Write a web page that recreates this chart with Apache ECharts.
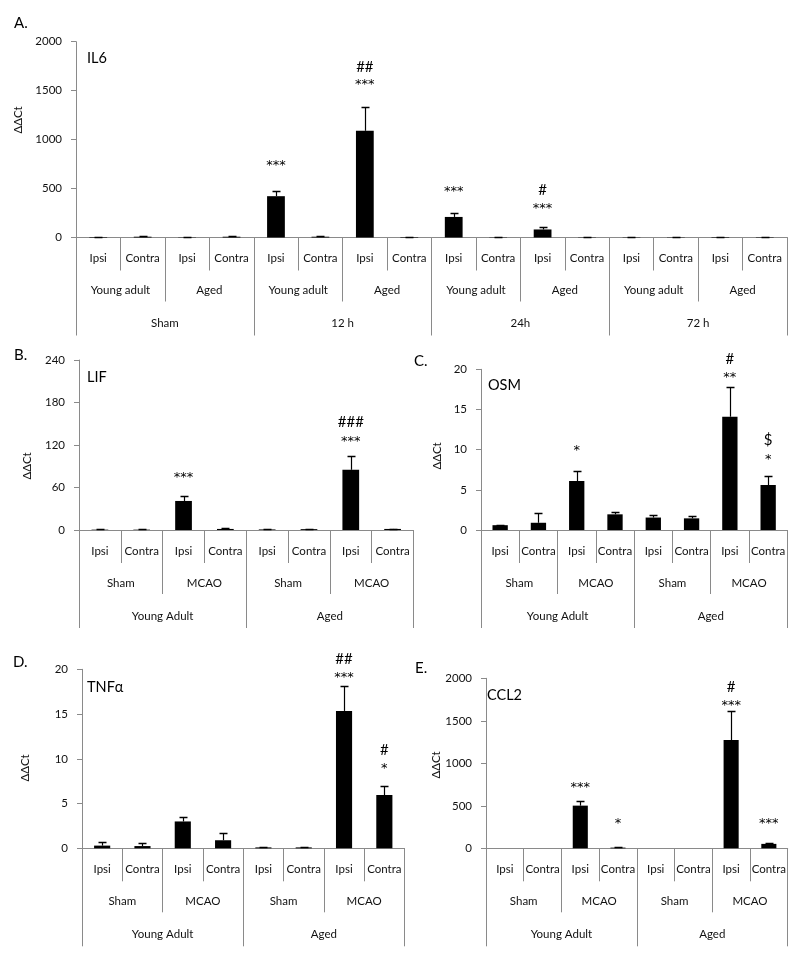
<!DOCTYPE html>
<html>
<head>
<meta charset="utf-8">
<script src="https://cdn.jsdelivr.net/npm/echarts@6/dist/echarts.min.js"></script>
<style>html,body{margin:0;padding:0;background:#fff}#c{width:800px;height:957px}</style>
</head>
<body>
<div id="c"></div>
<script>
// ---------- DATA ----------
const sideLabels16 = ['Ipsi','Contra','Ipsi','Contra','Ipsi','Contra','Ipsi','Contra','Ipsi','Contra','Ipsi','Contra','Ipsi','Contra','Ipsi','Contra'];
const ageLabels8 = ['Young adult','Aged','Young adult','Aged','Young adult','Aged','Young adult','Aged'];
const timeLabels4 = ['Sham','12 h','24h','72 h'];

const sideLabels8 = ['Ipsi','Contra','Ipsi','Contra','Ipsi','Contra','Ipsi','Contra'];
const groupLabels4 = ['Sham','MCAO','Sham','MCAO'];
const ageLabels2 = ['Young Adult','Aged'];

const il6Mean = [5, 8, 3, 8, 422, 8, 1090, 5, 210, 3, 82, 3, 3, 3, 5, 4];
const il6Sem  = [3, 3, 2, 3, 50, 3, 245, 3, 40, 2, 26, 2, 2, 2, 3, 2];
const il6Marks = [[4,'***',771],[6,'***',1599],[6,'##',1742],[8,'***',506],[10,'***',332],[10,'#',485]];

const lifMean = [0.5, 0.5, 41, 1.5, 0.8, 1.2, 85, 1.5];
const lifSem  = [0.3, 0.3, 6.7, 0.8, 0.4, 0.5, 18.8, 0.5];
const lifMarks = [[2,'***',79],[6,'***',130],[6,'###',152]];

const osmMean = [0.6, 0.9, 6.1, 1.95, 1.55, 1.45, 14.1, 5.6];
const osmSem  = [0.05, 1.25, 1.2, 0.3, 0.3, 0.25, 3.75, 1.1];
const osmMarks = [[2,'*',10.4],[6,'**',19.5],[6,'#',21.3],[7,'*',9.25],[7,'$',11.2]];

const tnfMean = [0.3, 0.25, 3.0, 0.9, 0.1, 0.1, 15.35, 5.95];
const tnfSem  = [0.45, 0.35, 0.5, 0.85, 0.1, 0.05, 2.8, 1.0];
const tnfMarks = [[6,'***',19.5],[6,'##',21.15],[7,'*',9.3],[7,'#',11.0]];

const ccl2Mean = [0, 0, 502, 8, 0, 0, 1274, 52];
const ccl2Sem  = [0, 0, 51, 4, 0, 0, 346, 16];
const ccl2Marks = [[2,'***',765],[3,'*',333],[6,'***',1725],[6,'#',1900],[7,'***',333]];

const yMax = [2000, 240, 20, 20, 2000];
const yStep = [500, 60, 5, 5, 500];
const geneNames = ['IL6','LIF','OSM','TNFα','CCL2'];
const panelLetters = ['A.','B.','C.','D.','E.'];

// ---------- LAYOUT / STYLE ----------
const FONT = 'Lato, "Noto Sans", "DejaVu Sans", sans-serif';
const STARFONT = '"DejaVu Sans", sans-serif';
const AX = '#8a8a8a';
const grids = [
  {left:76, top:41.7, width:711, height:195.8},
  {left:79, top:360, width:334.5, height:170},
  {left:481, top:369.3, width:306.3, height:160.7},
  {left:82, top:669.3, width:322.5, height:179},
  {left:486, top:678.3, width:301.7, height:170}
];
const levelSets = [
  [sideLabels16, ageLabels8, timeLabels4],
  [sideLabels8, groupLabels4, ageLabels2],
  [sideLabels8, groupLabels4, ageLabels2],
  [sideLabels8, groupLabels4, ageLabels2],
  [sideLabels8, groupLabels4, ageLabels2]
];
const tickLens = [33, 64, 98];
const labelMargins = [15, 47, 80];
const means = [il6Mean, lifMean, osmMean, tnfMean, ccl2Mean];
const sems = [il6Sem, lifSem, osmSem, tnfSem, ccl2Sem];
const marks = [il6Marks, lifMarks, osmMarks, tnfMarks, ccl2Marks];

const xAxes = [], yAxes = [], series = [];
grids.forEach((g, gi) => {
  levelSets[gi].forEach((labels, k) => {
    xAxes.push({
      type:'category', gridIndex:gi, position:'bottom', offset:0,
      data:labels,
      axisLine:{show:k===0, lineStyle:{color:AX, width:1}},
      axisTick:{show:true, interval:0, length:tickLens[k], lineStyle:{color:AX, width:1}},
      axisLabel:{interval:0, margin:labelMargins[k], fontSize:11.5, color:'#111', fontFamily:FONT},
      splitLine:{show:false}
    });
  });
  yAxes.push({
    type:'value', gridIndex:gi, min:0, max:yMax[gi], interval:yStep[gi],
    axisLine:{show:true, lineStyle:{color:AX, width:1}},
    axisTick:{show:true, length:5, lineStyle:{color:AX}},
    axisLabel:{margin:14, fontSize:11.5, color:'#111', fontFamily:FONT, formatter:v=>String(v)},
    splitLine:{show:false}
  });
  const xi = gi*3;
  series.push({
    type:'bar', xAxisIndex:xi, yAxisIndex:gi, data:means[gi],
    barWidth:'40%', itemStyle:{color:'#000'}, silent:true
  });
  series.push({
    type:'custom', xAxisIndex:xi, yAxisIndex:gi, silent:true, z:5,
    data:means[gi].map((m,i)=>[i, m, m + sems[gi][i]]),
    encode:{x:0, y:[1,2]},
    renderItem:(params, api)=>{
      const x = api.value(0), m = api.value(1), t = api.value(2);
      if (!(t > m)) return null;
      const p0 = api.coord([x, m]), p1 = api.coord([x, t]);
      const cx = Math.round(p0[0]) + 0.5;
      const ty = Math.round(p1[1]) + 0.5;
      return {type:'group', children:[
        {type:'line', shape:{x1:cx, y1:p0[1], x2:cx, y2:ty}, style:{stroke:'#000', lineWidth:1.2}},
        {type:'line', shape:{x1:cx-4, y1:ty, x2:cx+4, y2:ty}, style:{stroke:'#000', lineWidth:1.5}}
      ]};
    }
  });
  const mk = marks[gi];
  series.push({
    type:'custom', xAxisIndex:xi, yAxisIndex:gi, silent:true, z:6, clip:false,
    data:mk.map(a=>[a[0], a[2]]),
    encode:{x:0, y:1},
    renderItem:(params, api)=>{
      const p = api.coord([api.value(0), api.value(1)]);
      const txt = mk[params.dataIndex][1];
      const isStar = txt.indexOf('*') >= 0;
      return {type:'text', x:p[0], y:p[1] + (isStar ? 4 : 0), style:{
        text:txt, font: isStar ? ('13px ' + STARFONT) : ('15px ' + FONT), fill:'#000',
        textAlign:'center', align:'center', textVerticalAlign:'middle', verticalAlign:'middle'
      }};
    }
  });
});

const graphic = [];
const letterPos = [[14,23],[14,355],[414,361],[13,662],[415,668]];
const namePos = [[87,58],[87,377],[488,385],[87,687],[487,695]];
const yNamePos = [[18,120],[27,466],[437,456],[25,768],[436,765]];
for (let i = 0; i < 5; i++) {
  graphic.push({type:'text', x:letterPos[i][0], y:letterPos[i][1], style:{text:panelLetters[i], font:'15px ' + FONT, fill:'#000', textVerticalAlign:'middle', verticalAlign:'middle'}});
  graphic.push({type:'text', x:namePos[i][0], y:namePos[i][1], style:{text:geneNames[i], font:'14.5px ' + FONT, fill:'#000', textVerticalAlign:'middle', verticalAlign:'middle'}});
  graphic.push({type:'text', x:yNamePos[i][0], y:yNamePos[i][1], rotation:Math.PI/2, style:{text:'ΔΔCt', font:'11.5px ' + FONT, fill:'#111', textAlign:'center', align:'center', textVerticalAlign:'middle', verticalAlign:'middle'}});
}

const chart = echarts.init(document.getElementById('c'), null, {renderer:'canvas'});
chart.setOption({
  animation:false,
  backgroundColor:'#fff',
  textStyle:{fontFamily:FONT},
  grid:grids.map(g=>Object.assign({containLabel:false}, g)),
  xAxis:xAxes,
  yAxis:yAxes,
  series:series,
  graphic:graphic
});
</script>
</body>
</html>
